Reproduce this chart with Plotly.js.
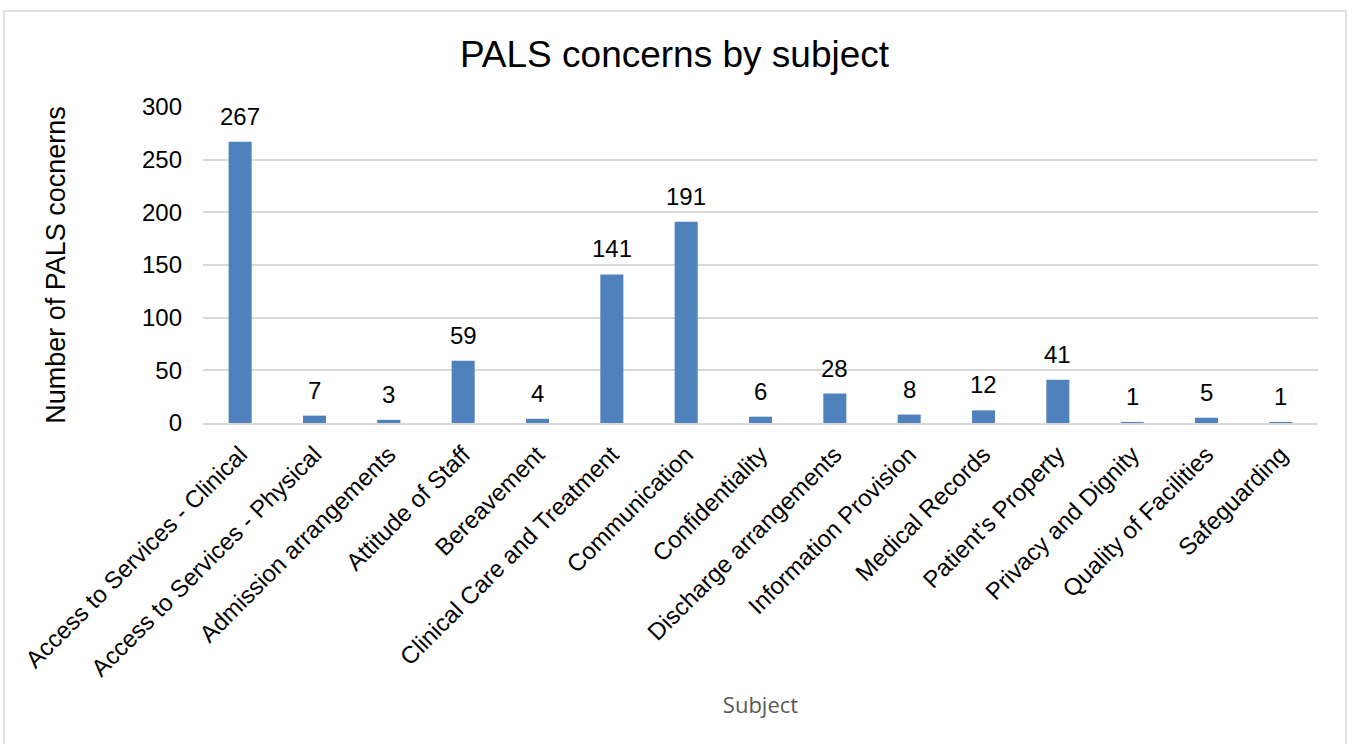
<!DOCTYPE html>
<html>
<head>
<meta charset="utf-8">
<script src="https://cdn.plot.ly/plotly-3.0.1.min.js"></script>
<style>
  html, body { margin: 0; padding: 0; background: #ffffff; }
  #chart { width: 1349px; height: 744px; }
</style>
</head>
<body>
<div id="chart"></div>
<script>
// PALS concerns grouped by subject
const subjects = [
  "Access to Services - Clinical",
  "Access to Services - Physical",
  "Admission arrangements",
  "Attitude of Staff",
  "Bereavement",
  "Clinical Care and Treatment",
  "Communication",
  "Confidentiality",
  "Discharge arrangements",
  "Information Provision",
  "Medical Records",
  "Patient's Property",
  "Privacy and Dignity",
  "Quality of Facilities",
  "Safeguarding"
];
const concerns = [267, 7, 3, 59, 4, 141, 191, 6, 28, 8, 12, 41, 1, 5, 1];
const yTicks = [0, 50, 100, 150, 200, 250, 300];

const barColor = "#4F81BD";
const gridColor = "#D9D9D9";
const textFont = "Liberation Sans, Arial, sans-serif";

const trace = {
  type: "bar",
  x: subjects,
  y: concerns,
  marker: { color: barColor },
  hoverinfo: "x+y"
};

// value labels above each bar
const valueLabels = subjects.map((s, i) => ({
  x: s,
  y: concerns[i],
  xref: "x",
  yref: "y",
  text: String(concerns[i]),
  showarrow: false,
  yanchor: "bottom",
  yshift: 10,
  font: { family: textFont, size: 24, color: "#000000" }
}));

const layout = {
  width: 1349,
  height: 744,
  paper_bgcolor: "#ffffff",
  plot_bgcolor: "#ffffff",
  margin: { l: 203, r: 31, t: 107, b: 321 },
  bargap: 0.69,
  showlegend: false,
  title: {
    text: "PALS concerns by subject",
    font: { family: textFont, size: 37, color: "#000000" },
    x: 0.5,
    xanchor: "center",
    y: 0.928,
    yanchor: "middle"
  },
  xaxis: {
    type: "category",
    tickangle: -45,
    tickfont: { family: textFont, size: 24, color: "#000000" },
    showgrid: false,
    showline: true,
    linecolor: gridColor,
    linewidth: 2,
    ticks: "",
    ticklabelstandoff: 6,
    automargin: false,
    title: {
      text: "Subject",
      font: { family: "Open Sans, Noto Sans, sans-serif", size: 22, color: "#595959" },
      standoff: 17
    }
  },
  yaxis: {
    range: [0, 300],
    tickvals: yTicks,
    ticktext: yTicks.map(String),
    tickfont: { family: textFont, size: 24, color: "#000000" },
    showgrid: true,
    gridcolor: gridColor,
    gridwidth: 2,
    zeroline: false,
    showline: false,
    ticks: "",
    ticklabelstandoff: 20,
    automargin: false,
    title: {
      text: "Number of PALS cocnerns",
      font: { family: textFont, size: 27, color: "#000000" },
      standoff: 68
    }
  },
  annotations: valueLabels,
  shapes: [{
    type: "rect",
    xref: "paper",
    yref: "paper",
    x0: (4 - 203) / 1115,
    x1: (1346 - 203) / 1115,
    y0: -2,
    y1: (423 - 11) / 316,
    line: { color: gridColor, width: 1.5 },
    fillcolor: "rgba(0,0,0,0)",
    layer: "below"
  }]
};

Plotly.newPlot("chart", [trace], layout, { displayModeBar: false, staticPlot: true });
</script>
</body>
</html>
